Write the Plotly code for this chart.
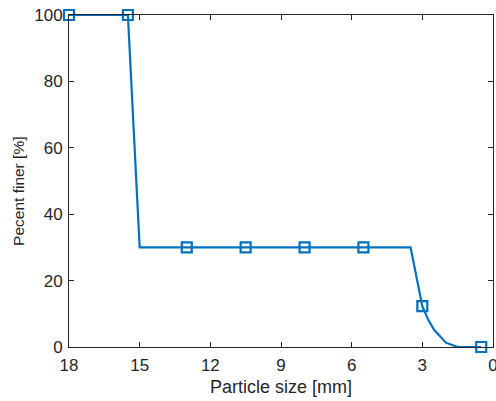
import plotly.graph_objects as go

# line data
line_x = [18, 15.5, 15, 3.5, 3, 2.75, 2.5, 2, 1.5, 1, 0.5]
line_y = [100, 100, 30, 30, 12.3, 8.2, 5.2, 1.3, 0, 0, 0]
# marker data
mark_x = [18, 15.5, 13, 10.5, 8, 5.5, 3, 0.5]
mark_y = [100, 100, 30, 30, 30, 30, 12.3, 0]

x_ticks = [18, 15, 12, 9, 6, 3, 0]
y_ticks = [0, 20, 40, 60, 80, 100]

x_title = "Particle size [mm]"
y_title = "Pecent finer [%]"

color = "#0072BD"
axc = "#262626"
fam = "Liberation Sans"

fig = go.Figure()
fig.add_trace(go.Scatter(x=line_x, y=line_y, mode="lines",
                         line=dict(color=color, width=2.2), cliponaxis=False,
                         showlegend=False))
fig.add_trace(go.Scatter(x=mark_x, y=mark_y, mode="markers",
                         marker=dict(symbol="square-open", size=10, color=color,
                                     line=dict(width=2.2, color=color)),
                         cliponaxis=False, showlegend=False))

axis_common = dict(showline=True, linecolor=axc, linewidth=1, mirror="ticks",
                   ticks="inside", ticklen=5, tickcolor=axc, showgrid=False,
                   zeroline=False, ticklabeloverflow="allow", automargin=False,
                   tickfont=dict(family=fam, size=17, color=axc))

fig.update_layout(
    width=496, height=401,
    margin=dict(l=69, r=3, t=15, b=54, autoexpand=False),
    paper_bgcolor="white", plot_bgcolor="white",
    xaxis=dict(range=[18, 0], tickvals=x_ticks, ticktext=[str(v) for v in x_ticks],
               ticklabelstandoff=3, **axis_common),
    yaxis=dict(range=[0, 100], tickvals=y_ticks, ticklabelstandoff=2, **axis_common),
    annotations=[
        dict(text=x_title, xref="paper", yref="paper", x=0.5, y=-0.119,
             xanchor="center", yanchor="middle", showarrow=False,
             font=dict(family=fam, size=18, color=axc)),
        dict(text=y_title, xref="paper", yref="paper", x=-0.118, y=0.47,
             xanchor="center", yanchor="middle", textangle=-90, showarrow=False,
             font=dict(family=fam, size=15.5, color=axc)),
    ],
)
fig.write_html("out.html")
